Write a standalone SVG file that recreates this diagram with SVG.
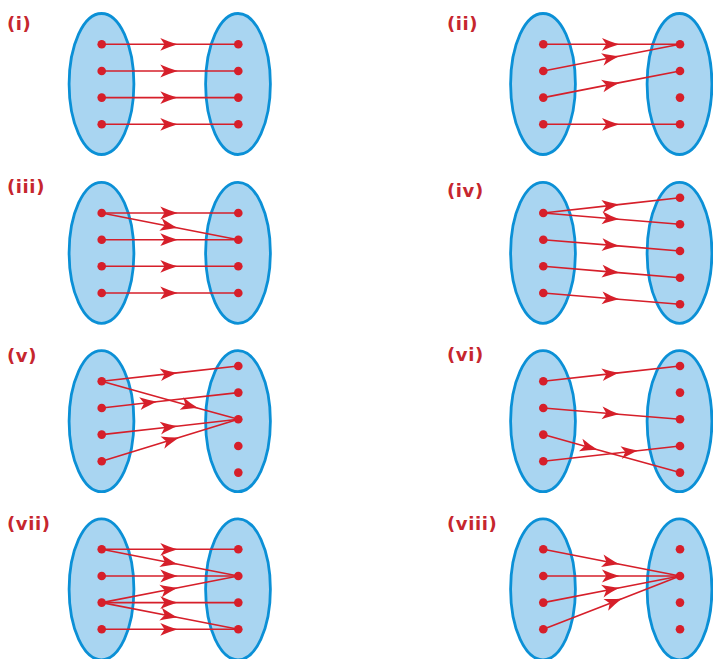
<svg xmlns="http://www.w3.org/2000/svg" width="713" height="659" viewBox="0 0 713 659">
<style>
.set{fill:#a9d5f1;stroke:#0b90d6;stroke-width:2.8}
.c{fill:none;stroke:#d61f2a;stroke-width:1.6;marker-mid:url(#ah)}
.d{fill:#d61f2a}
.lbl{font-family:"DejaVu Sans",Verdana,sans-serif;font-weight:bold;font-size:18px;letter-spacing:0.6px;fill:#c6262e}
</style>
<defs>
<marker id="ah" markerUnits="userSpaceOnUse" viewBox="-18 -8 20 16" markerWidth="20" markerHeight="16" refX="0" refY="0" orient="auto">
<path d="M1,0 C-5,-1.7 -11,-4 -16.5,-6.4 L-12.3,0 L-16.5,6.4 C-11,4 -5,1.7 1,0Z" fill="#d61f2a"/>
</marker>
<ellipse id="e" class="set" cx="0" cy="0" rx="32.4" ry="70.5"/>
<circle id="dt" class="d" cx="0" cy="0" r="4.3"/>
</defs>

<g id="labels">
<text class="lbl" x="7" y="29.5">(i)</text>
<text class="lbl" x="447" y="29.5">(ii)</text>
<text class="lbl" x="7" y="192.5">(iii)</text>
<text class="lbl" x="447" y="197">(iv)</text>
<text class="lbl" x="7" y="362">(v)</text>
<text class="lbl" x="447" y="361">(vi)</text>
<text class="lbl" x="7" y="529.5">(vii)</text>
<text class="lbl" x="447" y="529.5">(viii)</text>
</g>

<g id="sets">
<use href="#e" x="101.5" y="84"/><use href="#e" x="238" y="84"/>
<use href="#e" x="543" y="84"/><use href="#e" x="679.5" y="84"/>
<use href="#e" x="101.5" y="252.8"/><use href="#e" x="238" y="252.8"/>
<use href="#e" x="543" y="252.8"/><use href="#e" x="679.5" y="252.8"/>
<use href="#e" x="101.5" y="421.2"/><use href="#e" x="238" y="421.2"/>
<use href="#e" x="543" y="421.2"/><use href="#e" x="679.5" y="421.2"/>
<use href="#e" x="101.5" y="589.3"/><use href="#e" x="238" y="589.3"/>
<use href="#e" x="543" y="589.3"/><use href="#e" x="679.5" y="589.3"/>
</g>

<g id="connectors">
<!-- (i) -->
<path class="c" d="M101.7 44.3 L176.8 44.3 L238.3 44.3"/>
<path class="c" d="M101.7 71 L176.8 71 L238.3 71"/>
<path class="c" d="M101.7 97.6 L176.8 97.6 L238.3 97.6"/>
<path class="c" d="M101.7 124.3 L176.8 124.3 L238.3 124.3"/>
<!-- (ii) -->
<path class="c" d="M543.3 44.3 L618.5 44.3 L680 44.3"/>
<path class="c" d="M543.3 71 L618.5 56.3 L680 44.3"/>
<path class="c" d="M543.3 97.6 L618.5 82.9 L680 71"/>
<path class="c" d="M543.3 124.3 L618.5 124.3 L680 124.3"/>
<!-- (iii) -->
<path class="c" d="M101.7 213 L176.8 213 L238.3 213"/>
<path class="c" d="M101.7 213 L176.8 227.7 L238.3 239.7"/>
<path class="c" d="M101.7 239.7 L176.8 239.7 L238.3 239.7"/>
<path class="c" d="M101.7 266.3 L176.8 266.3 L238.3 266.3"/>
<path class="c" d="M101.7 293 L176.8 293 L238.3 293"/>
<!-- (iv) -->
<path class="c" d="M543.3 213 L618.5 204.6 L680 197.7"/>
<path class="c" d="M543.3 213 L618.5 219.2 L680 224.3"/>
<path class="c" d="M543.3 239.7 L618.5 245.9 L680 251"/>
<path class="c" d="M543.3 266.3 L618.5 272.6 L680 277.7"/>
<path class="c" d="M543.3 293 L618.5 299.2 L680 304.3"/>
<!-- (v) -->
<path class="c" d="M101.7 381.3 L176.8 372.9 L238.3 366"/>
<path class="c" d="M101.7 381.3 L197.3 407.9 L238.3 419.3"/>
<path class="c" d="M101.7 408 L156.3 401.8 L238.3 392.6"/>
<path class="c" d="M101.7 434.6 L176.8 426.2 L238.3 419.3"/>
<path class="c" d="M101.7 461.3 L178.2 437.8 L238.3 419.3"/>
<!-- (vi) -->
<path class="c" d="M543.3 381.3 L618.5 372.9 L680 366"/>
<path class="c" d="M543.3 408 L618.5 414.2 L680 419.3"/>
<path class="c" d="M543.3 434.6 L596.6 449.4 L680 472.6"/>
<path class="c" d="M543.3 461.3 L637.6 450.7 L680 446"/>
<!-- (vii) -->
<path class="c" d="M101.7 549.3 L176.8 549.3 L238.3 549.3"/>
<path class="c" d="M101.7 549.3 L176.8 564 L238.3 576"/>
<path class="c" d="M101.7 576 L176.8 576 L238.3 576"/>
<path class="c" d="M101.7 602.6 L176.8 588 L238.3 576"/>
<path class="c" d="M101.7 602.6 L176.8 602.6 L238.3 602.6"/>
<path class="c" d="M101.7 602.6 L176.8 617.3 L238.3 629.3"/>
<path class="c" d="M101.7 629.3 L176.8 629.3 L238.3 629.3"/>
<!-- (viii) -->
<path class="c" d="M543.3 549.3 L618.5 564 L680 576"/>
<path class="c" d="M543.3 576 L618.5 576 L680 576"/>
<path class="c" d="M543.3 602.6 L618.5 588 L680 576"/>
<path class="c" d="M543.3 629.3 L621.2 598.9 L680 576"/>
</g>

<g id="p1-dots">
<use href="#dt" x="101.7" y="44.3"/><use href="#dt" x="101.7" y="71"/><use href="#dt" x="101.7" y="97.6"/><use href="#dt" x="101.7" y="124.3"/>
<use href="#dt" x="238.3" y="44.3"/><use href="#dt" x="238.3" y="71"/><use href="#dt" x="238.3" y="97.6"/><use href="#dt" x="238.3" y="124.3"/>
</g>
<g id="p2-dots">
<use href="#dt" x="543.3" y="44.3"/><use href="#dt" x="543.3" y="71"/><use href="#dt" x="543.3" y="97.6"/><use href="#dt" x="543.3" y="124.3"/>
<use href="#dt" x="680" y="44.3"/><use href="#dt" x="680" y="71"/><use href="#dt" x="680" y="97.6"/><use href="#dt" x="680" y="124.3"/>
</g>
<g id="p3-dots">
<use href="#dt" x="101.7" y="213"/><use href="#dt" x="101.7" y="239.7"/><use href="#dt" x="101.7" y="266.3"/><use href="#dt" x="101.7" y="293"/>
<use href="#dt" x="238.3" y="213"/><use href="#dt" x="238.3" y="239.7"/><use href="#dt" x="238.3" y="266.3"/><use href="#dt" x="238.3" y="293"/>
</g>
<g id="p4-dots">
<use href="#dt" x="543.3" y="213"/><use href="#dt" x="543.3" y="239.7"/><use href="#dt" x="543.3" y="266.3"/><use href="#dt" x="543.3" y="293"/>
<use href="#dt" x="680" y="197.7"/><use href="#dt" x="680" y="224.3"/><use href="#dt" x="680" y="251"/><use href="#dt" x="680" y="277.7"/><use href="#dt" x="680" y="304.3"/>
</g>
<g id="p5-dots">
<use href="#dt" x="101.7" y="381.3"/><use href="#dt" x="101.7" y="408"/><use href="#dt" x="101.7" y="434.6"/><use href="#dt" x="101.7" y="461.3"/>
<use href="#dt" x="238.3" y="366"/><use href="#dt" x="238.3" y="392.6"/><use href="#dt" x="238.3" y="419.3"/><use href="#dt" x="238.3" y="446"/><use href="#dt" x="238.3" y="472.6"/>
</g>
<g id="p6-dots">
<use href="#dt" x="543.3" y="381.3"/><use href="#dt" x="543.3" y="408"/><use href="#dt" x="543.3" y="434.6"/><use href="#dt" x="543.3" y="461.3"/>
<use href="#dt" x="680" y="366"/><use href="#dt" x="680" y="392.6"/><use href="#dt" x="680" y="419.3"/><use href="#dt" x="680" y="446"/><use href="#dt" x="680" y="472.6"/>
</g>
<g id="p7-dots">
<use href="#dt" x="101.7" y="549.3"/><use href="#dt" x="101.7" y="576"/><use href="#dt" x="101.7" y="602.6"/><use href="#dt" x="101.7" y="629.3"/>
<use href="#dt" x="238.3" y="549.3"/><use href="#dt" x="238.3" y="576"/><use href="#dt" x="238.3" y="602.6"/><use href="#dt" x="238.3" y="629.3"/>
</g>
<g id="p8-dots">
<use href="#dt" x="543.3" y="549.3"/><use href="#dt" x="543.3" y="576"/><use href="#dt" x="543.3" y="602.6"/><use href="#dt" x="543.3" y="629.3"/>
<use href="#dt" x="680" y="549.3"/><use href="#dt" x="680" y="576"/><use href="#dt" x="680" y="602.6"/><use href="#dt" x="680" y="629.3"/>
</g>
</svg>
